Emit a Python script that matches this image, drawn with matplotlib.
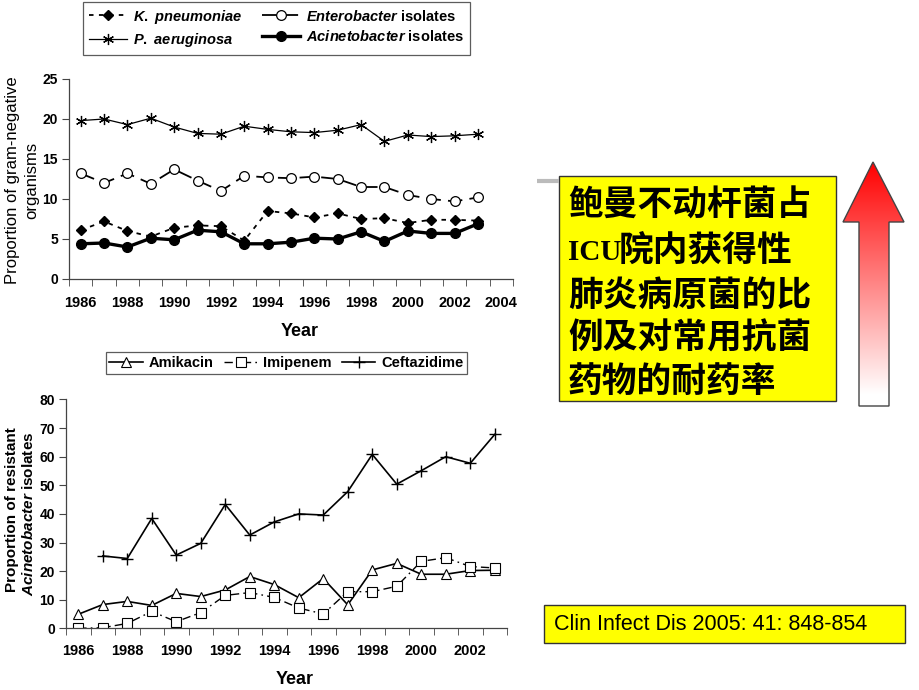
import numpy as np
import matplotlib
matplotlib.use('Agg')
import matplotlib.pyplot as plt
from matplotlib.patches import Rectangle, Polygon

plt.rcParams['font.family'] = ['Liberation Sans', 'DejaVu Sans']
plt.rcParams['mathtext.fontset'] = 'custom'
plt.rcParams['mathtext.rm'] = 'Liberation Sans:bold'
plt.rcParams['mathtext.it'] = 'Liberation Sans:italic:bold'
plt.rcParams['mathtext.bf'] = 'Liberation Sans:bold'

# top chart data
years_top = list(range(1986, 2004))
k_pneumoniae = [6.1, 7.2, 6.0, 5.3, 6.4, 6.7, 6.6, 4.8, 8.5, 8.2, 7.7, 8.2, 7.5, 7.6, 7.0, 7.4, 7.4, 7.3]
enterobacter = [13.2, 12.0, 13.2, 11.9, 13.7, 12.3, 11.0, 12.9, 12.7, 12.6, 12.8, 12.5, 11.5, 11.5, 10.5, 10.0, 9.7, 10.2]
p_aeruginosa = [19.8, 20.0, 19.3, 20.1, 19.0, 18.2, 18.1, 19.1, 18.7, 18.4, 18.3, 18.6, 19.3, 17.2, 18.0, 17.8, 17.9, 18.1]
acinetobacter = [4.4, 4.5, 4.0, 5.1, 4.9, 6.1, 5.9, 4.4, 4.4, 4.6, 5.1, 5.0, 5.9, 4.7, 6.0, 5.7, 5.7, 6.9]
top_xlabels = [1986, 1988, 1990, 1992, 1994, 1996, 1998, 2000, 2002, 2004]

# bottom chart data
years_bot = list(range(1986, 2004))
amikacin = [4.9, 8.3, 9.4, 8.0, 12.2, 11.1, 13.4, 18.1, 15.3, 10.7, 17.4, 8.2, 20.4, 22.7, 18.9, 18.9, 20.2, 20.3]
imipenem = [0.0, 0.2, 1.7, 5.9, 2.3, 5.5, 11.5, 12.5, 10.8, 7.1, 5.0, 12.8, 12.8, 14.7, 23.4, 24.7, 21.6, 21.1]
years_cef = list(range(1987, 2004))
ceftazidime = [25.3, 24.4, 38.4, 25.6, 29.7, 43.3, 32.6, 37.2, 40.0, 39.6, 47.8, 60.8, 50.4, 55.1, 60.0, 57.7, 67.8]
bot_xlabels = [1986, 1988, 1990, 1992, 1994, 1996, 1998, 2000, 2002]

cn_lines = ['鲍曼不动杆菌占', '院内获得性', '肺炎病原菌的比', '例及对常用抗菌', '药物的耐药率']
cite_text = 'Clin Infect Dis 2005: 41: 848-854'

W, H = 920, 690
fig = plt.figure(figsize=(9.2, 6.9), dpi=100)


def style_axes(ax, x0, x1, xlabels, pad):
    for s in ['top', 'right']:
        ax.spines[s].set_visible(False)
    for s in ['left', 'bottom']:
        ax.spines[s].set_color('#444444')
        ax.spines[s].set_linewidth(0.9)
    ax.set_xlim(x0 - 0.5, x1 + 0.5)
    ax.set_xticks(xlabels)
    ax.set_xticklabels([str(v) for v in xlabels])
    ax.set_xticks(np.arange(x0 - 0.5, x1 + 1.0, 1.0), minor=True)
    ax.tick_params(axis='x', which='major', length=0, pad=pad, labelsize=10.5)
    ax.tick_params(axis='x', which='minor', length=5, color='#444444', direction='out')
    ax.tick_params(axis='y', length=5, color='#444444', labelsize=10, pad=3)
    for lab in ax.get_xticklabels() + ax.get_yticklabels():
        lab.set_fontweight('bold')


def px(x, y):
    return x / W, 1 - y / H


# top chart
ax1 = fig.add_axes([69 / W, 1 - 279 / H, 444 / W, 200 / H])
ax1.plot(years_top, p_aeruginosa, color='black', lw=0.9, marker=(6, 2, 0), ms=8, mew=0.9,
         label=r'$\it{P.\ aeruginosa}$')
ax1.plot(years_top, enterobacter, color='black', lw=1.3, ls=(0, (8, 4)), marker='o', ms=7,
         mfc='white', mec='black', mew=0.9, label=r'$\it{Enterobacter}$ isolates')
ax1.plot(years_top, k_pneumoniae, color='black', lw=1.3, ls=(0, (2.5, 3)), marker='D', ms=5.5,
         label=r'$\it{K.\ pneumoniae}$')
ax1.plot(years_top, acinetobacter, color='black', lw=2.4, marker='o', ms=7,
         label=r'$\it{Acinetobacter}$ isolates')
ax1.set_ylim(0, 25)
ax1.set_yticks([0, 5, 10, 15, 20, 25])
style_axes(ax1, 1986, 2004, top_xlabels, 12)
fig.text(*px(300, 332), 'Year', fontsize=13, fontweight='bold', ha='center', va='center')
fig.text(*px(13, 180), 'Proportion of gram-negative', fontsize=12, rotation=90,
         ha='center', va='center')
fig.text(*px(32, 180), 'organisms', fontsize=12, rotation=90, ha='center', va='center')

h = {l.get_label(): l for l in ax1.get_lines()}
order = [r'$\it{K.\ pneumoniae}$', r'$\it{P.\ aeruginosa}$',
         r'$\it{Enterobacter}$ isolates', r'$\it{Acinetobacter}$ isolates']
leg1 = fig.legend([h[o] for o in order], order, loc='center', ncol=2,
                  bbox_to_anchor=px(276.5, 28.5), fontsize=10.5, frameon=True,
                  fancybox=False, edgecolor='#333333', handlelength=2.6, columnspacing=1.4,
                  borderpad=0.4, labelspacing=0.4, handletextpad=0.4)
leg1.get_frame().set_linewidth(0.9)

# bottom chart
ax2 = fig.add_axes([66 / W, 1 - 628.3 / H, 441 / W, 228.8 / H])
l_am, = ax2.plot(years_bot, amikacin, color='black', lw=1.2, marker='^', ms=7, mfc='white',
                 mec='black', mew=0.8, label='Amikacin')
l_im, = ax2.plot(years_bot, imipenem, color='black', lw=1.0, ls=(0, (6, 3, 1.2, 3)), marker='s',
                 ms=7, mfc='white', mec='black', mew=0.8, label='Imipenem')
l_ce, = ax2.plot(years_cef, ceftazidime, color='black', lw=1.2, marker='+', ms=9, mew=1.0,
                 label='Ceftazidime')
ax2.set_ylim(0, 80)
ax2.set_yticks(np.arange(0, 81, 10))
style_axes(ax2, 1986, 2003, bot_xlabels, 11)
fig.text(*px(295, 680), 'Year', fontsize=13, fontweight='bold', ha='center', va='center')
fig.text(*px(12, 510), 'Proportion of resistant', fontsize=11, fontweight='bold',
         rotation=90, ha='center', va='center')
fig.text(*px(29, 514), r'$\it{Acinetobacter}$ isolates', fontsize=11, fontweight='bold',
         rotation=90, ha='center', va='center')

leg2 = fig.legend([l_am, l_im, l_ce], ['Amikacin', 'Imipenem', 'Ceftazidime'], loc='center',
                  ncol=3, bbox_to_anchor=px(286.5, 363), fontsize=10.5, frameon=True,
                  fancybox=False, edgecolor='#333333', handlelength=2.3, columnspacing=0.7,
                  borderpad=0.25, handletextpad=0.4)
leg2.get_frame().set_linewidth(0.9)
for t in leg1.get_texts() + leg2.get_texts():
    t.set_fontweight('bold')

# overlay for boxes and arrow
ov = fig.add_axes([0, 0, 1, 1], zorder=5)
ov.set_xlim(0, W)
ov.set_ylim(H, 0)
ov.axis('off')

ov.plot([537, 559], [181, 181], color='#bbbbbb', lw=3, solid_capstyle='butt')
ov.add_patch(Rectangle((559, 176), 277, 225, facecolor='#ffff00', edgecolor='#333333', lw=1))
cn_font = ['Noto Sans CJK SC', 'DejaVu Sans']
line_y = [205, 250, 295, 338, 381]
for i, (txt, y) in enumerate(zip(cn_lines, line_y)):
    x = 568
    if i == 1:
        ov.text(x, y + 3, 'ICU', fontsize=21, va='center', ha='left', fontweight='bold',
                family=['Liberation Serif', 'DejaVu Serif'])
        x = 619
    ov.text(x, y, txt, fontsize=25, va='center', ha='left', family=cn_font, fontweight='bold')

ov.add_patch(Rectangle((544, 605), 361, 38, facecolor='#ffff00', edgecolor='#333333', lw=1))
ov.text(554, 624.5, cite_text, fontsize=15.5, va='center', ha='left',
        family=['Liberation Sans', 'DejaVu Sans'])

# gradient arrow
arrow_pts = [(873, 162), (904, 222), (889, 222), (889, 406), (859, 406), (859, 222), (843, 222)]
arrow = Polygon(arrow_pts, closed=True, facecolor='none', edgecolor='#444444', lw=1, zorder=3)
ov.add_patch(arrow)
t = np.linspace(0, 1, 256)
grad = np.zeros((256, 1, 4))
grad[:, 0, 0] = 1.0
grad[:, 0, 1] = np.clip(t * 1.05, 0, 1)
grad[:, 0, 2] = np.clip(t * 1.05, 0, 1)
grad[:, 0, 3] = 1.0
im = ov.imshow(grad, extent=(843, 904, 406, 162), aspect='auto', interpolation='bilinear', zorder=1)
clip = Polygon(arrow_pts, closed=True, transform=ov.transData)
im.set_clip_path(clip)
ov.set_xlim(0, W)
ov.set_ylim(H, 0)

fig.savefig('out.png', dpi=100)
